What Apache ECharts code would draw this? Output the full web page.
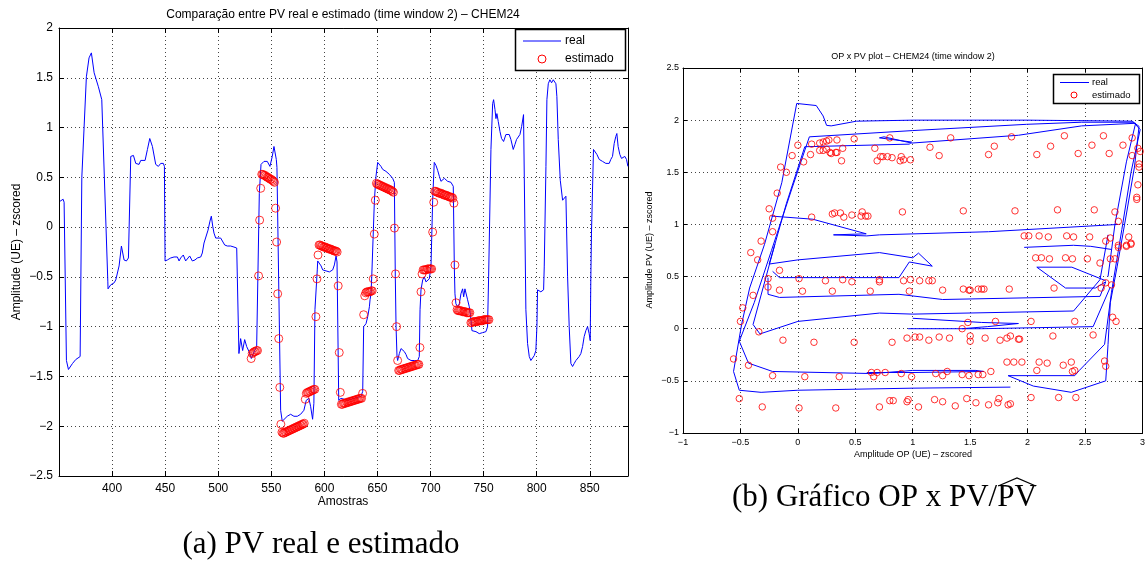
<!DOCTYPE html>
<html><head><meta charset="utf-8">
<script src="https://cdn.jsdelivr.net/npm/echarts/dist/echarts.min.js"></script>
<style>html,body{margin:0;padding:0;background:#fff}#c{width:1148px;height:561px}</style>
</head><body><div id="c"></div>
<script>
// ---------- (a) PV real e estimado ----------
const realX = [351.0,353.9,354.8,357.0,358.9,362.7,365.8,367.4,369.9,370.5,371.5,375.8,378.3,380.5,383.1,387.1,390.3,391.2,396.0,396.2,398.7,401.9,403.5,406.6,408.8,411.3,413.5,415.4,417.6,420.1,422.3,425.4,427.0,431.1,433.3,435.5,438.0,441.1,443.6,445.8,448.3,449.3,449.9,452.1,455.2,458.4,461.5,463.1,464.6,467.1,469.3,470.9,473.1,475.6,478.1,480.3,483.5,485.0,486.6,488.2,490.4,492.2,493.5,494.8,496.0,497.6,499.2,502.3,503.9,506.1,508.6,511.7,514.8,516.4,517.4,519.5,521.1,523.0,524.9,526.8,529.0,531.2,532.7,534.3,536.2,538.7,540.3,543.1,546.2,548.7,550.9,552.5,553.7,554.7,555.3,558.8,560.3,561.9,565.0,568.2,571.3,574.5,577.6,580.7,582.9,585.4,587.0,588.9,590.1,591.1,593.3,593.7,595.3,596.9,598.4,601.6,604.7,606.3,607.8,609.4,611.0,611.9,613.5,615.7,618.8,622.0,625.1,628.2,631.4,634.5,636.1,637.0,639.2,640.8,642.4,643.0,643.9,644.6,647.1,648.6,650.2,651.8,653.3,654.9,656.5,658.0,659.6,661.2,662.8,664.3,665.9,666.8,667.5,668.4,669.0,670.6,672.2,673.7,675.3,676.9,678.4,681.6,684.7,686.3,687.9,689.4,690.1,691.0,692.6,694.1,695.7,697.3,698.8,700.4,702.0,703.5,705.1,706.7,708.3,709.8,711.4,713.0,714.5,716.1,717.7,719.2,720.8,721.4,722.4,723.0,723.9,725.5,727.1,728.6,730.2,731.2,732.4,733.4,734.9,736.5,738.1,739.0,740.6,742.8,745.9,749.0,752.2,753.7,754.7,756.9,758.5,759.4,760.7,761.6,762.5,763.8,765.4,766.9,768.8,771.0,772.6,774.1,775.7,777.9,779.5,781.0,782.6,784.2,785.8,787.6,788.3,789.8,791.4,793.0,794.5,796.1,797.7,799.2,800.2,800.8,802.4,803.9,805.5,806.5,807.1,808.7,809.6,810.9,812.4,814.0,815.6,817.1,818.1,819.0,820.3,822.2,824.4,825.9,827.5,828.4,829.1,830.6,832.2,833.8,835.3,836.9,838.5,840.0,841.6,843.2,844.7,846.3,847.9,849.4,850.4,851.0,851.6,853.5,854.8,856.7,858.9,860.4,862.0,863.6,865.1,866.7,868.3,869.8,871.4,873.0,874.5,875.5,876.7,878.3,879.9,881.4,883.0,884.6,885.9];
const realY = [0.26,0.28,0.25,-1.34,-1.43,-1.37,-1.33,-1.34,-1.30,-1.28,0.50,1.51,1.70,1.75,1.55,1.41,1.28,1.27,-0.55,-0.62,-0.58,-0.56,-0.53,-0.39,-0.19,-0.33,-0.34,-0.31,0.71,0.72,0.64,0.63,0.67,0.67,0.78,0.89,0.81,0.63,0.61,0.64,0.64,0.61,-0.34,-0.33,-0.31,-0.30,-0.30,-0.34,-0.31,-0.28,-0.34,-0.36,-0.29,-0.34,-0.33,-0.31,-0.30,-0.26,-0.16,-0.14,-0.03,0.06,0.11,0.01,-0.06,-0.11,-0.09,-0.11,-0.13,-0.18,-0.19,-0.19,-0.20,-0.21,-0.21,-1.27,-1.12,-1.24,-1.13,-1.20,-1.25,-1.32,-1.28,-1.24,-1.20,0.34,0.63,0.66,0.66,0.61,0.71,0.81,0.82,0.68,0.60,-1.84,-1.95,-1.94,-1.90,-1.88,-1.90,-1.90,-1.88,-1.84,-1.74,-1.72,-1.80,-1.93,-1.77,-0.83,-0.43,-0.34,-0.34,-0.39,-0.43,-0.44,-0.45,-0.46,-0.43,-0.38,-0.29,-0.35,-1.74,-1.72,-1.73,-1.74,-1.73,-1.72,-1.71,-1.70,-1.65,-1.00,-0.97,-0.90,-0.80,-0.73,-0.67,-0.50,0.27,0.51,0.65,0.64,0.61,0.58,0.59,0.56,0.54,0.53,0.51,0.49,0.45,-0.50,-1.00,-1.30,-1.34,-1.27,-1.22,-1.20,-1.25,-1.28,-1.32,-1.34,-1.34,-1.33,-1.34,-1.30,-0.83,-0.63,-0.53,-0.50,-0.55,-0.53,-0.52,-0.40,0.27,0.65,0.62,0.57,0.51,0.46,0.44,0.49,0.47,0.46,0.44,0.45,0.46,0.41,-0.40,-0.67,-0.77,-0.80,-0.77,-0.67,-0.62,-0.70,-0.62,-0.63,-0.73,-0.80,-0.93,-1.04,-1.02,-1.05,-1.07,-1.06,-1.05,-1.00,-0.50,0.78,1.24,1.28,1.18,1.09,1.14,1.06,0.96,0.89,0.86,0.93,0.94,0.93,0.88,0.78,0.83,0.88,0.89,0.93,1.01,1.13,0.50,-0.83,-1.17,-1.30,-1.34,-1.32,-1.29,-1.24,-1.00,-0.63,-0.62,-0.65,-0.65,-0.63,-0.40,0.61,1.28,1.44,1.48,1.45,1.48,1.49,1.44,1.31,0.88,0.47,0.27,0.26,0.31,0.32,-0.50,-1.00,-1.37,-1.40,-1.37,-1.34,-1.32,-1.30,-1.27,-1.20,-1.10,-1.04,-1.00,-1.07,-1.14,-0.50,-0.06,0.78,0.76,0.73,0.68,0.68,0.66,0.67,0.64,0.63,0.64,0.68,0.71,0.84,0.91,0.94,0.81,0.73,0.69,0.69,0.71,0.68,0.61];
const estFirstSample = 531;
const estY = [-1.32,-1.27,-1.26,-1.25,-1.25,-1.24,-1.24,-0.49,0.07,0.39,
 0.53,0.53,0.52,0.52,0.51,0.50,0.50,0.49,0.48,0.48,0.47,0.46,0.45,
 0.19,-0.15,-0.67,-1.12,-1.61,-1.98,
 -2.06,-2.07,-2.07,-2.06,-2.06,-2.05,-2.05,-2.04,-2.04,-2.03,-2.03,-2.02,-2.02,-2.01,-2.01,-2.00,-2.00,-1.99,-1.99,-1.98,-1.98,-1.97,
 -1.73,-1.67,-1.66,-1.66,-1.65,-1.65,-1.64,-1.64,-1.63,-1.63,
 -0.90,-0.52,-0.28,
 -0.18,-0.18,-0.19,-0.19,-0.20,-0.20,-0.20,-0.21,-0.21,-0.22,-0.22,-0.22,-0.23,-0.23,-0.24,-0.24,-0.24,-0.25,
 -0.59,-1.26,-1.66,
 -1.78,-1.78,-1.77,-1.77,-1.77,-1.76,-1.76,-1.76,-1.75,-1.75,-1.75,-1.74,-1.74,-1.74,-1.73,-1.73,-1.73,-1.72,-1.72,-1.72,
 -1.67,-0.88,-0.69,
 -0.66,-0.65,-0.65,-0.65,-0.65,-0.64,-0.64,
 -0.52,-0.07,0.27,
 0.44,0.43,0.43,0.42,0.42,0.41,0.41,0.40,0.40,0.39,0.39,0.38,0.38,0.37,0.37,0.36,0.35,
 -0.01,-0.47,-1.00,-1.34,
 -1.44,-1.44,-1.43,-1.43,-1.43,-1.42,-1.42,-1.42,-1.41,-1.41,-1.41,-1.40,-1.40,-1.40,-1.39,-1.39,-1.39,-1.38,-1.38,-1.38,
 -1.21,-0.65,-0.47,
 -0.43,-0.43,-0.43,-0.43,-0.42,-0.42,-0.42,-0.42,-0.42,
 -0.05,0.25,
 0.36,0.36,0.35,0.35,0.34,0.34,0.34,0.33,0.33,0.32,0.32,0.32,0.31,0.31,0.30,0.30,0.30,0.29,
 0.24,-0.38,-0.76,
 -0.83,-0.84,-0.84,-0.84,-0.84,-0.85,-0.85,-0.85,-0.85,-0.86,-0.86,-0.86,-0.86,
 -0.96,-0.96,-0.95,-0.95,-0.95,-0.95,-0.95,-0.94,-0.94,-0.94,-0.94,-0.94,-0.93,-0.93,-0.93,-0.93,-0.93,-0.93];

// ---------- (b) OP x PV ----------
const opPvSegments = [
 [[1.85,-0.56],[1.00,-0.57],[0.00,-0.59],[-0.32,-0.61],[-0.51,-0.59],[-0.56,-0.41],[-0.49,0.04],[-0.42,0.39],[-0.29,0.81],[-0.14,1.40],[-0.01,2.16],[0.16,2.14],[0.22,2.04],[0.25,1.95],[0.29,1.945],[0.51,1.99],[1.00,2.00],[2.00,2.00],[2.91,1.99],[2.97,1.94],[2.93,1.55],[2.86,1.10],[2.78,0.60],[2.72,0.25],[2.70,-0.15],[2.68,-0.50],[2.38,-0.61],[2.05,-0.55],[1.83,-0.45],[2.41,-0.45],[2.45,-0.40],[2.67,-0.15],[2.73,0.35],[2.82,0.95],[2.90,1.50],[2.98,1.91],[2.92,1.98],[2.47,1.98],[1.99,1.96],[1.00,1.90],[0.10,1.84],[-0.05,1.35],[-0.23,0.75],[-0.38,0.25],[-0.51,-0.12],[-0.43,-0.33],[-0.22,-0.41],[0.65,-0.43],[1.00,-0.40],[1.55,-0.40],[1.62,-0.41],[1.00,-0.42],[0.60,-0.42]],
 [[2.70,0.50],[2.76,1.00],[2.86,1.60],[2.94,1.97],[2.47,1.945],[1.92,1.855],[0.99,1.78],[0.75,1.84],[0.71,1.83],[0.99,1.79],[0.97,1.77],[0.06,1.745],[-0.10,1.20],[-0.20,0.81],[-0.25,0.62],[0.00,0.66],[0.71,0.73],[1.00,0.68],[1.05,0.725],[1.17,0.60],[0.97,0.64],[0.88,0.49],[-0.16,0.49],[-0.22,0.55]],
 [[-0.20,0.81],[-0.39,0.04],[-0.33,-0.05],[0.00,0.07],[0.71,0.15],[1.00,0.14],[2.40,0.17],[2.63,0.47],[2.70,0.90]],
 [[-0.26,0.49],[-0.26,0.33],[-0.16,0.30],[0.88,0.33],[1.26,0.28],[2.63,0.31],[2.68,0.45]],
 [[0.96,0.00],[1.60,0.00],[2.57,0.02],[2.72,0.40]],
 [[1.00,0.10],[1.60,0.06],[1.92,0.05],[1.65,0.02],[1.43,0.00]],
 [[2.79,1.00],[1.66,0.93],[0.71,0.90],[0.60,0.89],[0.31,0.90],[0.595,0.91],[0.13,1.05],[-0.23,1.08]],
 [[2.73,0.76],[2.55,0.79],[2.40,0.80],[1.97,0.78]],
 [[2.68,0.46],[2.385,0.59],[2.08,0.59],[2.33,0.39],[2.59,0.39],[2.68,0.45]]
];
const opPvEstimated = [
 [0.00,1.76],[-0.05,1.66],[-0.15,1.55],[-0.10,1.50],[-0.18,1.30],[-0.25,1.15],[-0.22,1.06],[-0.22,0.93],[-0.32,0.84],
 [0.05,1.60],[0.11,1.67],[0.12,1.77],[0.19,1.78],[0.22,1.79],[0.25,1.80],[0.27,1.81],[0.34,1.81],[0.19,1.71],[0.22,1.71],[0.25,1.72],[0.28,1.69],[0.29,1.68],[0.33,1.69],[0.34,1.69],[0.39,1.73],[0.38,1.61],[0.49,1.82],[0.80,1.83],[0.67,1.73],[0.69,1.61],[0.72,1.65],[0.74,1.65],[0.78,1.65],[0.82,1.64],[0.89,1.61],[0.90,1.65],[0.92,1.62],[0.98,1.62],
 [0.12,1.07],[0.30,1.10],[0.32,1.11],[0.37,1.11],[0.40,1.07],[0.47,1.09],[0.55,1.08],[0.56,1.12],[0.59,1.08],[0.61,1.08],[0.91,1.12],
 [1.33,1.83],[1.15,1.74],[1.23,1.66],[1.66,1.67],[1.71,1.75],[1.86,1.84],[2.08,1.67],[2.20,1.75],[2.32,1.85],[2.44,1.68],[2.56,1.76],[2.66,1.85],[2.71,1.68],[2.83,1.76],[2.91,1.83],[2.91,1.66],[2.96,1.73],[2.98,1.70],[2.97,1.58],[2.97,1.55],[2.96,1.38],[2.95,1.26],[2.95,1.24],
 [1.44,1.13],[1.89,1.13],[2.26,1.14],[2.58,1.14],[2.76,1.12],[2.79,1.03],
 [1.97,0.89],[2.01,0.89],[2.10,0.89],[2.18,0.88],[2.34,0.89],[2.40,0.88],[2.54,0.88],[2.68,0.84],[2.72,0.87],[2.88,0.88],[2.90,0.82],[2.86,0.79],[2.79,0.78],
 [-0.41,0.73],[-0.35,0.66],[-0.16,0.56],[-0.26,0.48],[-0.26,0.40],[-0.39,0.32],[-0.48,0.20],[-0.50,0.07],[-0.34,-0.03],
 [-0.16,0.37],[0.01,0.48],[0.04,0.36],[0.24,0.46],[0.30,0.36],[0.39,0.47],[0.47,0.45],[0.63,0.36],[0.71,0.47],[0.71,0.45],[0.92,0.46],[0.98,0.47],[0.97,0.36],
 [-0.13,-0.11],[0.14,-0.13],[0.49,-0.13],[0.82,-0.13],[0.95,-0.09],
 [-0.56,-0.29],[-0.43,-0.35],[-0.22,-0.45],[0.06,-0.46],[0.36,-0.46],[0.64,-0.42],[0.69,-0.42],[0.66,-0.46],[0.76,-0.42],[0.90,-0.43],[0.99,-0.46],
 [-0.51,-0.67],[-0.31,-0.75],[0.01,-0.76],[0.33,-0.76],[0.71,-0.75],[0.80,-0.69],[0.83,-0.69],[0.95,-0.70],[0.96,-0.68],
 [1.06,0.46],[1.14,0.46],[1.17,0.46],[1.26,0.37],[1.44,0.38],[1.49,0.37],[1.50,0.37],[1.57,0.38],[1.60,0.38],[1.62,0.38],[1.84,0.38],[2.23,0.39],
 [2.07,0.68],[2.12,0.68],[2.19,0.67],[2.33,0.68],[2.39,0.67],[2.52,0.67],[2.63,0.63],[2.72,0.67],[2.76,0.67],[2.79,0.80],[2.86,0.80],[2.90,0.81],
 [2.64,0.39],[2.68,0.44],[2.73,0.42],[2.74,0.11],[2.77,0.07],
 [1.48,0.06],[1.72,0.07],[2.03,0.07],[2.41,0.07],[1.43,0.00],
 [1.02,-0.08],[1.06,-0.08],[1.14,-0.11],[1.23,-0.08],[1.32,-0.09],[1.50,-0.07],[1.50,-0.12],[1.63,-0.09],[1.76,-0.11],[1.82,-0.09],[1.85,-0.07],[1.92,-0.10],[1.93,-0.10],[2.22,-0.07],[2.57,-0.06],
 [1.82,-0.32],[1.88,-0.32],[1.95,-0.32],[2.10,-0.32],[2.17,-0.33],[2.31,-0.35],[2.38,-0.32],[2.67,-0.31],[2.68,-0.36],
 [1.20,-0.43],[1.26,-0.45],[1.30,-0.41],[1.43,-0.44],[1.49,-0.45],[1.57,-0.44],[1.61,-0.44],[1.68,-0.41],[2.08,-0.40],[2.39,-0.41],[2.41,-0.40],
 [1.05,-0.75],[1.19,-0.68],[1.26,-0.70],[1.37,-0.74],[1.47,-0.67],[1.55,-0.71],[1.66,-0.73],[1.74,-0.71],[1.75,-0.67],[1.83,-0.73],[1.85,-0.72],[2.03,-0.66],[2.27,-0.66],[2.42,-0.66]
];

const SANS = '"Liberation Sans", Arial, sans-serif';
const SERIF = '"Liberation Serif", "Times New Roman", serif';
const minus = v => String(v).replace('-', '\u2212');
const gridLine = {show: true, lineStyle: {color: '#444', width: 1, type: [1, 3]}};
const axLine = {show: true, onZero: false, lineStyle: {color: '#000', width: 1}};

function axisPair(kind, gi, min, max, interval, labelFmt, fs, tickLen, margin) {
  const main = {
    type: 'value', gridIndex: gi, min, max, interval,
    position: kind === 'x' ? 'bottom' : 'left',
    axisLine: axLine, axisTick: {show: true, inside: true, length: tickLen, lineStyle: {color: '#000'}},
    splitLine: gridLine,
    axisLabel: {show: true, color: '#000', fontFamily: SANS, fontSize: fs, margin, formatter: labelFmt, showMinLabel: true, showMaxLabel: true}
  };
  const opp = {
    type: 'value', gridIndex: gi, min, max, interval,
    position: kind === 'x' ? 'top' : 'right',
    axisLine: axLine, axisTick: {show: true, inside: true, length: tickLen, lineStyle: {color: '#000'}},
    splitLine: {show: false}, axisLabel: {show: false}
  };
  return [main, opp];
}

const xA = axisPair('x', 0, 350, 886, 50, v => (v >= 400 && v <= 850 && v % 50 === 0) ? String(v) : '', 12, 5, 7);
const yA = axisPair('y', 0, -2.5, 2, 0.5, v => minus(v), 12, 5, 6);
const xB = axisPair('x', 1, -1, 3, 0.5, v => minus(v), 9, 4, 5);
const yB = axisPair('y', 1, -1, 2.5, 0.5, v => minus(v), 9, 4, 4);

const realData = realX.map((x, i) => [x, realY[i]]);
const estData = estY.map((y, i) => [estFirstSample + i, y]);

const series = [
  {type: 'line', xAxisIndex: 0, yAxisIndex: 0, data: realData, symbol: 'none', lineStyle: {color: '#0000ff', width: 1}, silent: true, z: 2},
  {type: 'scatter', xAxisIndex: 0, yAxisIndex: 0, data: estData, symbol: 'circle', symbolSize: 8,
   itemStyle: {color: 'rgba(0,0,0,0)', borderColor: '#ff0000', borderWidth: 1}, silent: true, z: 3}
];
opPvSegments.forEach(seg => series.push({type: 'line', xAxisIndex: 2, yAxisIndex: 2, data: seg, symbol: 'none',
  lineStyle: {color: '#0000ff', width: 1}, silent: true, z: 2}));
series.push({type: 'scatter', xAxisIndex: 2, yAxisIndex: 2, data: opPvEstimated, symbol: 'circle', symbolSize: 6.5,
  itemStyle: {color: 'rgba(0,0,0,0)', borderColor: '#ff0000', borderWidth: 1}, silent: true, z: 3});

function txt(x, y, text, fs, opts) {
  return Object.assign({type: 'text', x, y, z: 100, style: {text, fill: '#000', fontFamily: SANS, fontSize: fs, align: 'center', verticalAlign: 'middle'}}, opts || {});
}

// caption (b) with hat over the last PV
const capFont = '31px ' + SERIF;
const cv = document.createElement('canvas').getContext('2d');
cv.font = capFont;
const capB = '(b) Gráfico OP x PV/PV';
const capBLeft = 732;
const wPre = cv.measureText('(b) Gráfico OP x PV/').width;
const wPV = cv.measureText('PV').width;
const hx0 = capBLeft + wPre + 1, hx1 = capBLeft + wPre + wPV - 1;

const graphic = [
  txt(343, 15, 'Comparação entre PV real e estimado (time window 2) \u2013 CHEM24', 12),
  txt(343, 502, 'Amostras', 12),
  txt(17, 252, 'Amplitude (UE) \u2013 zscored', 12, {rotation: Math.PI / 2}),
  txt(913, 57, 'OP x PV plot \u2013 CHEM24 (time window 2)', 9),
  txt(913, 455, 'Amplitude OP (UE) \u2013 zscored', 9),
  txt(650, 250, 'Amplitude PV (UE) \u2013 zscored', 9, {rotation: Math.PI / 2}),
  // legend (a)
  {type: 'rect', z: 100, shape: {x: 515.5, y: 29.5, width: 110, height: 41}, style: {fill: '#fff', stroke: '#000', lineWidth: 1.5}},
  {type: 'line', z: 101, shape: {x1: 523, y1: 41, x2: 561, y2: 41}, style: {stroke: '#0000ff', lineWidth: 1}},
  {type: 'circle', z: 101, shape: {cx: 542, cy: 59, r: 4}, style: {fill: 'none', stroke: '#ff0000', lineWidth: 1}},
  {type: 'text', z: 101, x: 565, y: 41, style: {text: 'real', fill: '#000', fontFamily: SANS, fontSize: 12, align: 'left', verticalAlign: 'middle'}},
  {type: 'text', z: 101, x: 565, y: 59, style: {text: 'estimado', fill: '#000', fontFamily: SANS, fontSize: 12, align: 'left', verticalAlign: 'middle'}},
  // legend (b)
  {type: 'rect', z: 100, shape: {x: 1053.5, y: 74.5, width: 86, height: 29}, style: {fill: '#fff', stroke: '#000', lineWidth: 1.5}},
  {type: 'line', z: 101, shape: {x1: 1060, y1: 82.5, x2: 1089, y2: 82.5}, style: {stroke: '#0000ff', lineWidth: 1}},
  {type: 'circle', z: 101, shape: {cx: 1074, cy: 95, r: 3}, style: {fill: 'none', stroke: '#ff0000', lineWidth: 1}},
  {type: 'text', z: 101, x: 1092, y: 82.5, style: {text: 'real', fill: '#000', fontFamily: SANS, fontSize: 9.5, align: 'left', verticalAlign: 'middle'}},
  {type: 'text', z: 101, x: 1092, y: 95, style: {text: 'estimado', fill: '#000', fontFamily: SANS, fontSize: 9.5, align: 'left', verticalAlign: 'middle'}},
  // captions
  {type: 'text', z: 100, x: 321, y: 545, style: {text: '(a) PV real e estimado', fill: '#000', font: capFont, align: 'center', verticalAlign: 'middle'}},
  {type: 'text', z: 100, x: capBLeft, y: 498, style: {text: capB, fill: '#000', font: capFont, align: 'left', verticalAlign: 'middle'}},
  {type: 'polyline', z: 100, shape: {points: [[hx0, 486], [(hx0 + hx1) / 2, 478], [hx1, 486]]}, style: {stroke: '#000', lineWidth: 1.3, fill: 'none'}}
];

const chart = echarts.init(document.getElementById('c'), null, {renderer: 'canvas'});
chart.setOption({
  animation: false,
  backgroundColor: '#fff',
  grid: [
    {left: 59, top: 28, width: 569, height: 448, containLabel: false},
    {left: 683, top: 68, width: 462, height: 365, containLabel: false}
  ],
  xAxis: [xA[0], xA[1], xB[0], xB[1]],
  yAxis: [yA[0], yA[1], yB[0], yB[1]],
  series,
  graphic
});
</script></body></html>
